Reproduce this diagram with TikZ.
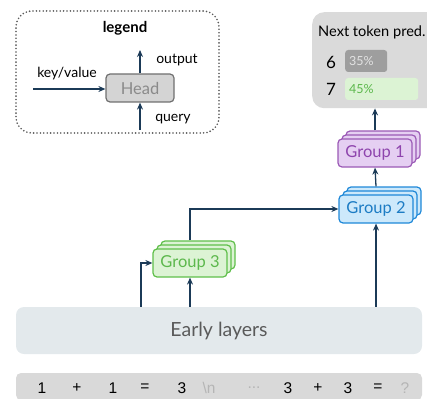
\documentclass[tikz,border=0pt]{standalone}
\usepackage{fontspec}
\setmainfont{Lato}
\newfontfamily\tokfont{Liberation Sans}
\usetikzlibrary{arrows.meta,calc}
\definecolor{navy}{HTML}{1B3A57}
\definecolor{legdot}{HTML}{5A5A5A}
\definecolor{headfill}{HTML}{D4D4D4}
\definecolor{headdraw}{HTML}{707070}
\definecolor{headtext}{HTML}{8A8A8A}
\definecolor{predfill}{HTML}{DADADA}
\definecolor{barg}{HTML}{9E9E9E}
\definecolor{bargtext}{HTML}{E2E2E2}
\definecolor{gfill}{HTML}{DCF3D4}
\definecolor{gdraw}{HTML}{5FBF4A}
\definecolor{gtext}{HTML}{5CB84C}
\definecolor{bfill}{HTML}{CDE9FB}
\definecolor{bdraw}{HTML}{1E88D8}
\definecolor{btext}{HTML}{1C7CC4}
\definecolor{pfill}{HTML}{E5CFF2}
\definecolor{pdraw}{HTML}{9B59B6}
\definecolor{ptext}{HTML}{8E44AD}
\definecolor{elfill}{HTML}{E3E9EC}
\definecolor{eltext}{HTML}{5A5A5A}
\definecolor{tokfill}{HTML}{D9D9D9}
\definecolor{toklight}{HTML}{B5B5B5}
\newcommand\grpstack[7]{%
  \node[grp, fill=#4, draw=#5] (#1c) at (#2+8,#3-8) {};
  \node[grp, fill=#4, draw=#5] (#1b) at (#2+4,#3-4) {};
  \node[grp, fill=#4, draw=#5, text=#6] (#1) at (#2,#3) {#7};}
\begin{document}
\begin{tikzpicture}[x=1pt,y=-1pt,
  arr/.style={draw=navy, line width=1.3pt, -{Stealth[length=7pt,width=6pt]}},
  grp/.style={line width=1.2pt, rounded corners=4pt, minimum width=74pt, minimum height=28pt, inner sep=0pt, font=\fontsize{16.5}{18}\selectfont},
  lbl/.style={font=\fontsize{14}{16}\selectfont, inner sep=0pt},
  tok/.style={font=\tokfont\fontsize{15.5}{17}\selectfont, inner sep=0pt},
  ltok/.style={tok, text=toklight},
  bartext/.style={font=\fontsize{12.5}{14}\selectfont, inner sep=0pt, anchor=west}]
\useasboundingbox (0,0) rectangle (427,398);
% legend
\node[draw=legdot, line width=1.8pt, dash pattern=on 0pt off 3.4pt, line cap=round, rounded corners=16pt, minimum width=203pt, minimum height=122pt] (legend) at (117.5,72) {};
\node[lbl, font=\bfseries\fontsize{15}{17}\selectfont] (legtitle) at (125,28) {legend};
\node[draw=headdraw, fill=headfill, line width=1.2pt, rounded corners=4pt, minimum width=68pt, minimum height=28pt, text=headtext, font=\fontsize{16.5}{18}\selectfont] (head) at (140,88) {Head};
\coordinate (kvs) at (33,89);
\coordinate (outs) at (140,50);
\coordinate (qs) at (140,130);
\draw[arr] (kvs) -- (head.west |- kvs);
\draw[arr] (head.north) -- (outs);
\draw[arr] (qs) -- (head.south);
\node[lbl] (kvlbl) at (67,74) {key/value};
\node[lbl] (outlbl) at (177,60) {output};
\node[lbl] (qlbl) at (173,119) {query};
% prediction box
\node[fill=predfill, rounded corners=12pt, minimum width=140pt, minimum height=96pt, anchor=north west] (pred) at (312,12) {};
\node[lbl, anchor=west, font=\fontsize{14.6}{16}\selectfont] (predtitle) at (318,32) {Next token pred.};
\node[lbl, font=\fontsize{17}{19}\selectfont] (six) at (331,62) {6};
\node[fill=barg, rounded corners=3pt, minimum width=42pt, minimum height=22pt, anchor=west] (bar6) at (345,61) {};
\node[bartext, text=bargtext] (p35) at (349,61) {35\%};
\node[lbl, font=\fontsize{17}{19}\selectfont] (seven) at (331,89) {7};
\node[fill=gfill, rounded corners=3pt, minimum width=73pt, minimum height=22pt, anchor=west] (bar7) at (345,89) {};
\node[bartext, text=gtext] (p45) at (349,89) {45\%};
% early layers and tokens
\node[fill=elfill, rounded corners=8pt, minimum width=406pt, minimum height=47pt, text=eltext, font=\fontsize{19.5}{21}\selectfont] (el) at (219,330.5) {Early layers};
\node[fill=tokfill, rounded corners=5pt, minimum width=406pt, minimum height=27pt] (tokrow) at (219,386.5) {};
\node[tok] (t1) at (42,388) {1};
\node[tok] (t2) at (77,388) {+};
\node[tok] (t3) at (113,388) {1};
\node[tok] (t4) at (145,388) {=};
\node[tok] (t5) at (182,388) {3};
\node[ltok] (t6) at (209,388) {\textbackslash n};
\node[ltok] (t7) at (254,388) {...};
\node[tok] (t8) at (288,388) {3};
\node[tok] (t9) at (318,388) {+};
\node[tok] (t10) at (348,388) {3};
\node[tok] (t11) at (378,388) {=};
\node[ltok] (t12) at (405,388) {?};
% groups
\grpstack{g1}{375}{153}{pfill}{pdraw}{ptext}{Group 1}
\grpstack{g2}{376}{209}{bfill}{bdraw}{btext}{Group 2}
\grpstack{g3}{190}{263}{gfill}{gdraw}{gtext}{Group 3}
% connectors
\coordinate (c3) at (141,263);
\draw[arr] (el.north -| c3) |- (g3.west);
\draw[arr] (el.north -| g3.south) -- (g3.south);
\draw[arr] (g3.north |- g3c.north) |- (g2.west);
\draw[arr] (el.north -| g2.south) -- (g2.south);
\draw[arr] (g2.north |- g2c.north) -- (g1.south);
\draw[arr] (g1.north |- g1c.north) -- (g1.north |- pred.south);
\end{tikzpicture}
\end{document}
